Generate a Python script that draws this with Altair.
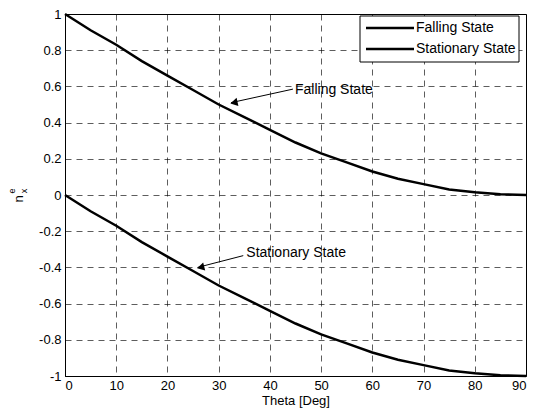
import altair as alt
import pandas as pd

theta = [0, 5, 10, 15, 20, 25, 30, 35, 40, 45, 50, 55, 60, 65, 70, 75, 80, 85, 90]
falling = [1.0, 0.91, 0.83, 0.74, 0.66, 0.58, 0.50, 0.43, 0.36, 0.29, 0.23, 0.18,
           0.13, 0.09, 0.06, 0.03, 0.015, 0.004, 0.0]
stationary = [0.0, -0.09, -0.17, -0.26, -0.34, -0.42, -0.50, -0.57, -0.64, -0.71,
              -0.77, -0.82, -0.87, -0.91, -0.94, -0.97, -0.985, -0.996, -1.0]
series_names = ["Falling State", "Stationary State"]

x_ticks = [0, 10, 20, 30, 40, 50, 60, 70, 80, 90]
y_ticks = [-1, -0.8, -0.6, -0.4, -0.2, 0, 0.2, 0.4, 0.6, 0.8, 1]

# annotations: label text, text position, arrow start, arrow tip
ann_labels = ["Falling State", "Stationary State"]
ann_text_x = [44.9, 35.4]
ann_text_y = [0.58, -0.32]
ann_start_x = [44.5, 34.8]
ann_start_y = [0.585, -0.335]
ann_tip_x = [32.4, 25.9]
ann_tip_y = [0.51, -0.40]
ann_angle = [347.5, 346.0]

FONT = "Liberation Sans"
W, H = 461, 362

rows = []
for name, vals in zip(series_names, [falling, stationary]):
    for t, v in zip(theta, vals):
        rows.append({"theta": t, "value": v, "series": name})
df = pd.DataFrame(rows)

xs = alt.Scale(domain=[0, 90], nice=False, zero=False)
ys = alt.Scale(domain=[-1, 1], nice=False, zero=False)

grid_kw = dict(grid=True, gridDash=[6, 5], gridColor="black", gridOpacity=0.8,
               gridWidth=0.8, domainColor="black", ticks=False, labelOverlap=False)
x_axis = alt.Axis(values=x_ticks, title="Theta [Deg]", titlePadding=2, labelPadding=3,
                  **grid_kw)
y_axis = alt.Axis(values=y_ticks, title=None, labelPadding=4,
                  labelExpr="replace(format(datum.value, '.1~f'), '\u2212', '-')",
                  **grid_kw)

lines = alt.Chart(df).mark_line(strokeWidth=2.5, color="black").encode(
    x=alt.X("theta:Q", scale=xs, axis=x_axis),
    y=alt.Y("value:Q", scale=ys, axis=y_axis),
    detail="series:N",
)

ann = pd.DataFrame({
    "label": ann_labels, "tx": ann_text_x, "ty": ann_text_y,
    "sx": ann_start_x, "sy": ann_start_y, "px": ann_tip_x, "py": ann_tip_y,
    "angle": ann_angle,
})

arrow_lines = alt.Chart(ann).mark_rule(color="black", strokeWidth=1).encode(
    x=alt.X("sx:Q", scale=xs, axis=x_axis), y=alt.Y("sy:Q", scale=ys, axis=y_axis),
    x2="px:Q", y2="py:Q",
)
arrow_heads = alt.Chart(ann).mark_point(shape="triangle-left", filled=True, color="black",
                                        size=70, opacity=1, xOffset=3).encode(
    x=alt.X("px:Q", scale=xs, axis=x_axis), y=alt.Y("py:Q", scale=ys, axis=y_axis),
    angle=alt.Angle("angle:Q", scale=None),
)
ann_text = alt.Chart(ann).mark_text(align="left", baseline="middle", fontSize=14,
                                    font=FONT, color="black").encode(
    x=alt.X("tx:Q", scale=xs, axis=x_axis), y=alt.Y("ty:Q", scale=ys, axis=y_axis),
    text="label:N",
)

# legend box (drawn in pixel space inside the plot's top-right corner)
one = pd.DataFrame({"a": [0]})
leg_box = alt.Chart(one).mark_rect(
    fill="white", stroke="black", strokeWidth=1).encode(
    x=alt.value(W - 166), x2=alt.value(W - 7), y=alt.value(2), y2=alt.value(48))
leg_layers = []
for name, yy in zip(series_names, [14, 35]):
    d = pd.DataFrame({"series": [name]})
    leg_layers.append(alt.Chart(d).mark_rule(color="black", strokeWidth=2.5).encode(
        x=alt.value(W - 160), x2=alt.value(W - 112), y=alt.value(yy)))
    leg_layers.append(alt.Chart(d).mark_text(align="left", baseline="middle", fontSize=14,
                                             font=FONT, color="black").encode(
        x=alt.value(W - 110), y=alt.value(yy), text="series:N"))

ylab_n = alt.Chart(pd.DataFrame({"t": ["n"]})).mark_text(
    angle=270, fontSize=13, font=FONT, color="black").encode(
    x=alt.value(-46), y=alt.value(185), text="t:N")
ylab_e = alt.Chart(pd.DataFrame({"t": ["e"]})).mark_text(
    angle=270, fontSize=9, font=FONT, color="black").encode(
    x=alt.value(-53), y=alt.value(177), text="t:N")
ylab_x = alt.Chart(pd.DataFrame({"t": ["x"]})).mark_text(
    angle=270, fontSize=9, font=FONT, color="black").encode(
    x=alt.value(-41), y=alt.value(177), text="t:N")

chart = alt.layer(lines, arrow_lines, arrow_heads, ann_text,
                  leg_box, *leg_layers,
                  ylab_n, ylab_e, ylab_x).properties(
    width=W, height=H,
    autosize="none",
    padding={"left": 57, "top": 6, "right": 3, "bottom": 37},
    background="white",
).configure_view(stroke="black", strokeWidth=1).configure_axis(
    labelFont=FONT, labelFontSize=13, labelColor="black", labelOverlap=False,
    titleFont=FONT, titleFontSize=13, titleColor="black", titleFontWeight="normal",
)

chart.save("out.html", embed_options={"renderer": "svg", "actions": False})
